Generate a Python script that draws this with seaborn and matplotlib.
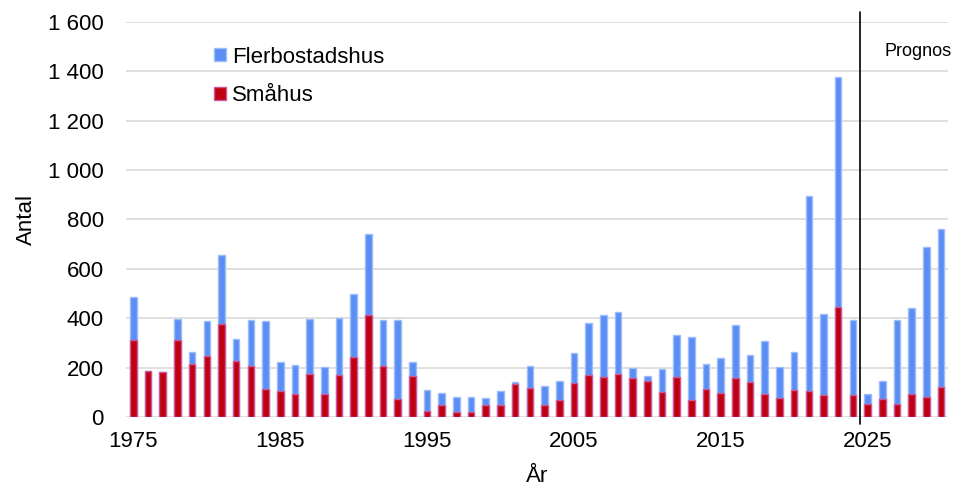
import matplotlib
matplotlib.use('Agg')
import matplotlib.pyplot as plt
import seaborn as sns
import numpy as np
from matplotlib.patches import Patch
from matplotlib.ticker import FuncFormatter

# Data
years = list(range(1975, 2031))
smahus = [313, 185, 182, 313, 216, 246, 378, 228, 207, 112,
          104, 92, 176, 95, 170, 243, 411, 207, 72, 166,
          25, 48, 20, 19, 47, 50, 132, 117, 49, 68,
          136, 172, 163, 176, 158, 145, 101, 162, 68, 115,
          98, 157, 142, 92, 78, 111, 105, 88, 446, 88,
          54, 74, 54, 95, 81, 122]
flerbostadshus = [171, 0, 0, 84, 49, 143, 279, 88, 187, 277,
                  119, 119, 221, 108, 230, 257, 331, 185, 320, 58,
                  85, 51, 61, 62, 30, 54, 8, 91, 78, 79,
                  122, 208, 250, 251, 42, 20, 92, 169, 256, 101,
                  142, 217, 111, 216, 125, 152, 789, 331, 929, 304,
                  41, 72, 338, 348, 608, 641]
tick_years = [1975, 1985, 1995, 2005, 2015, 2025]
y_ticks = [0, 200, 400, 600, 800, 1000, 1200, 1400, 1600]
forecast_start = 2025

blue = '#5B8EF5'
blue_edge = '#9DBCFA'
red = '#C00010'
red_edge = '#CC5A98'

sns.set_style('white')
plt.rcParams['font.family'] = ['Liberation Sans', 'DejaVu Sans']
plt.rcParams['text.color'] = 'black'
plt.rcParams['axes.labelcolor'] = 'black'
plt.rcParams['xtick.color'] = 'black'
plt.rcParams['ytick.color'] = 'black'

total = np.array(smahus) + np.array(flerbostadshus)
labels = [str(y) for y in years]

fig, ax = plt.subplots(figsize=(9.55, 4.86), dpi=100)
fig.subplots_adjust(left=0.132, right=0.993, top=0.955, bottom=0.142)

sns.barplot(x=labels, y=total, order=labels, color=blue, saturation=1,
            width=0.45, edgecolor=blue_edge, linewidth=1, ax=ax, zorder=2)
sns.barplot(x=labels, y=smahus, order=labels, color=red, saturation=1,
            width=0.45, edgecolor=red_edge, linewidth=1, ax=ax, zorder=3)

ax.set_ylim(0, 1600)
ax.set_xlim(-0.5, len(years) - 0.5)
ax.set_yticks(y_ticks)
ax.yaxis.set_major_formatter(FuncFormatter(lambda v, p: f"{int(v):,}".replace(',', ' ')))
ax.set_xticks([years.index(y) for y in tick_years])
ax.set_xticklabels([str(y) for y in tick_years])
ax.tick_params(axis='x', length=0, pad=10, labelsize=16)
ax.tick_params(axis='y', length=0, pad=16, labelsize=16)

ax.grid(axis='y', color='#d9d9d9', linewidth=1.2)
ax.set_axisbelow(True)
sns.despine(ax=ax, left=True, bottom=True)

ax.set_xlabel('År', fontsize=16, labelpad=10)
ax.set_ylabel('Antal', fontsize=16, labelpad=8)

# forecast divider
xv = years.index(forecast_start) - 0.5
ax.plot([xv, xv], [-0.018, 1.025], color='black', linewidth=1.2,
        transform=ax.get_xaxis_transform(), clip_on=False, zorder=4)
ax.text(0.922, 0.924, 'Prognos', transform=ax.transAxes, fontsize=13,
        ha='left', va='center')

handles = [Patch(facecolor=blue, edgecolor=blue_edge, label='Flerbostadshus'),
           Patch(facecolor=red, edgecolor=red_edge, label='Småhus')]
ax.legend(handles=handles, loc='center left', bbox_to_anchor=(0.107, 0.862),
          frameon=False, fontsize=16, handlelength=0.55, handleheight=0.55,
          handletextpad=0.25, labelspacing=0.8, borderpad=0, borderaxespad=0)

plt.savefig('out.png', dpi=100)
